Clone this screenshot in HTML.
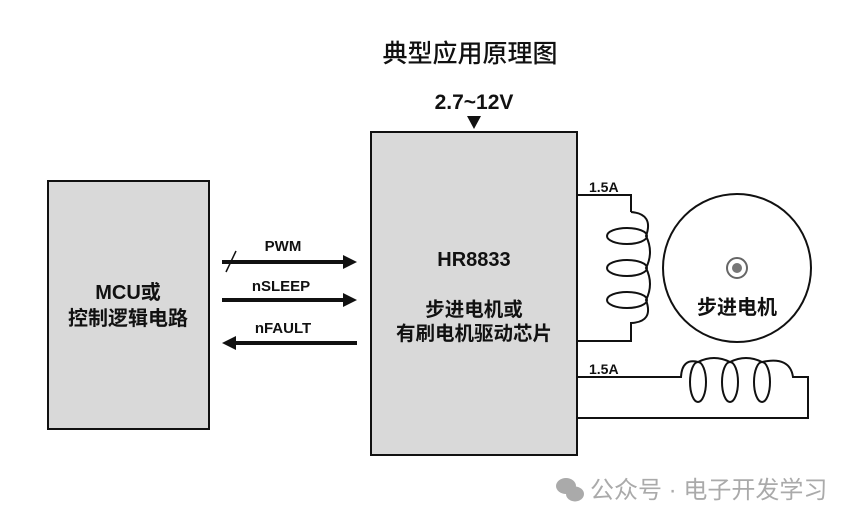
<!DOCTYPE html>
<html><head><meta charset="utf-8"><style>
html,body{margin:0;padding:0;background:#fff;}
svg{display:block;}
text{font-family:"Liberation Sans","Noto Sans CJK SC",sans-serif;font-weight:bold;fill:#111;}
</style></head><body>
<svg width="865" height="524" viewBox="0 0 865 524" xmlns="http://www.w3.org/2000/svg">
<text x="470" y="62" font-size="25" text-anchor="middle" style="font-weight:500">典型应用原理图</text>
<text x="474" y="109" font-size="21" text-anchor="middle">2.7~12V</text>
<path d="M467,116 L481,116 L474,129 Z" fill="#111"/>
<rect x="48" y="181" width="161" height="248" fill="#d9d9d9" stroke="#111" stroke-width="2"/>
<text x="128" y="299" font-size="20" text-anchor="middle">MCU或</text>
<text x="128" y="325" font-size="20" text-anchor="middle">控制逻辑电路</text>
<rect x="371" y="132" width="206" height="323" fill="#d9d9d9" stroke="#111" stroke-width="2"/>
<text x="474" y="266" font-size="20" text-anchor="middle">HR8833</text>
<text x="474" y="316" font-size="19.5" text-anchor="middle">步进电机或</text>
<text x="474" y="340" font-size="19.5" text-anchor="middle">有刷电机驱动芯片</text>
<g stroke="#111" stroke-width="4" fill="none">
<line x1="222" y1="262" x2="347" y2="262"/>
<line x1="222" y1="300" x2="347" y2="300"/>
<line x1="357" y1="343" x2="233" y2="343"/>
</g>
<path d="M357,262 L343,255 L343,269 Z M357,300 L343,293 L343,307 Z M222,343 L236,336 L236,350 Z" fill="#111"/>
<line x1="226" y1="272" x2="236" y2="251" stroke="#111" stroke-width="1.5"/>
<text x="283" y="251" font-size="15" text-anchor="middle">PWM</text>
<text x="281" y="291" font-size="15" text-anchor="middle">nSLEEP</text>
<text x="283" y="333" font-size="15" text-anchor="middle">nFAULT</text>
<g stroke="#111" stroke-width="2" fill="none">
<path d="M577,195 L631,195 L631,212"/>
<path d="M631,212 Q654,214 646,236 Q654,252 646,268 Q654,284 646,300 Q654,322 631,323 L631,341 L577,341"/>
<ellipse cx="627" cy="236" rx="20" ry="8"/>
<ellipse cx="627" cy="268" rx="20" ry="8"/>
<ellipse cx="627" cy="300" rx="20" ry="8"/>
<path d="M577,377 L681,377 Q682,358 698,362 Q714,354 730,362 Q746,354 762,362 Q790,356 793,377 L808,377 L808,418 L577,418"/>
<ellipse cx="698" cy="382" rx="8" ry="20"/>
<ellipse cx="730" cy="382" rx="8" ry="20"/>
<ellipse cx="762" cy="382" rx="8" ry="20"/>
<circle cx="737" cy="268" r="74"/>
</g>
<circle cx="737" cy="268" r="10" fill="#fff" stroke="#666" stroke-width="2"/>
<circle cx="737" cy="268" r="5" fill="#777"/>
<text x="737" y="314" font-size="20" text-anchor="middle">步进电机</text>
<text x="589" y="192" font-size="14">1.5A</text>
<text x="589" y="374" font-size="14">1.5A</text>
<g fill="#aaa"><ellipse cx="566" cy="486" rx="10" ry="8"/><ellipse cx="575" cy="494" rx="9" ry="7.5"/></g>
<text x="590" y="498" font-size="24" style="font-weight:normal;fill:#aaa">公众号 · 电子开发学习</text>
</svg>
</body></html>
